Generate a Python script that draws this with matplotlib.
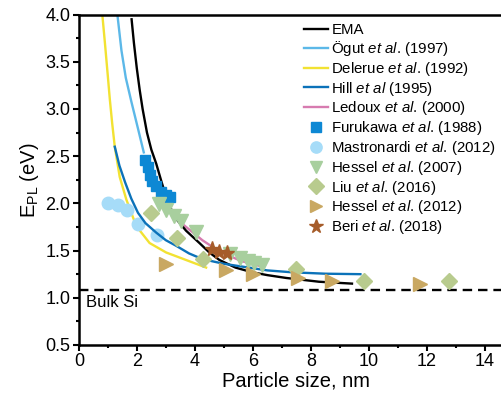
import matplotlib.pyplot as plt
from matplotlib.ticker import MultipleLocator

plt.rcParams['font.family'] = ['Liberation Sans', 'DejaVu Sans']
plt.rcParams['mathtext.fontset'] = 'custom'
plt.rcParams['mathtext.rm'] = 'Liberation Sans'
plt.rcParams['mathtext.it'] = 'Liberation Sans:italic'

# --- curvas ---
ema_x = [1.82, 1.90, 2.00, 2.10, 2.20, 2.35, 2.50, 2.67, 2.85, 2.96, 3.13, 3.40,
         3.70, 4.16, 4.50, 4.85, 5.40, 5.98, 6.50, 7.15, 8.28, 9.42]
ema_y = [3.95, 3.70, 3.43, 3.20, 3.00, 2.75, 2.57, 2.42, 2.23, 2.12, 1.97, 1.82,
         1.71, 1.58, 1.48, 1.40, 1.32, 1.27, 1.24, 1.21, 1.17, 1.15]

ogut_x = [1.33, 1.47, 1.62, 1.81, 2.05, 2.24]
ogut_y = [4.00, 3.62, 3.33, 3.08, 2.78, 2.54]

delerue_x = [0.81, 0.90, 1.00, 1.07, 1.15, 1.24, 1.41, 1.64, 1.98, 2.44, 3.01, 3.70, 4.39]
delerue_y = [4.00, 3.70, 3.35, 3.10, 2.85, 2.60, 2.28, 2.04, 1.76, 1.58, 1.48, 1.40, 1.32]

hill_x = [1.24, 1.40, 1.60, 1.81, 2.04, 2.30, 2.67, 3.00, 3.36, 3.80, 4.26, 5.00,
          5.64, 6.50, 7.35, 8.50, 9.71]
hill_y = [2.60, 2.40, 2.22, 2.05, 1.90, 1.79, 1.69, 1.61, 1.55, 1.47, 1.41, 1.36,
          1.33, 1.29, 1.27, 1.255, 1.25]

ledoux_x = [2.27, 2.60, 3.00, 3.50, 4.26, 4.80, 5.59, 6.20]
ledoux_y = [2.47, 2.22, 1.99, 1.80, 1.61, 1.50, 1.39, 1.34]

# --- puntos experimentales ---
furukawa_x = [2.27, 2.37, 2.44, 2.51, 2.65, 2.82, 3.02, 3.13]
furukawa_y = [2.46, 2.38, 2.30, 2.24, 2.18, 2.12, 2.09, 2.07]

mastro_x = [1.01, 1.35, 1.67, 2.04, 2.70]
mastro_y = [2.00, 1.98, 1.93, 1.78, 1.67]

hessel07_x = [2.78, 3.00, 3.28, 3.52, 4.05, 5.20, 5.55, 5.85, 6.05, 6.30]
hessel07_y = [1.99, 1.93, 1.87, 1.81, 1.70, 1.46, 1.42, 1.39, 1.37, 1.35]

liu_x = [2.50, 3.38, 4.27, 7.50, 9.85, 12.77]
liu_y = [1.90, 1.63, 1.41, 1.30, 1.18, 1.18]

hessel12_x = [3.00, 5.08, 6.00, 7.55, 8.73, 11.75]
hessel12_y = [1.36, 1.29, 1.25, 1.21, 1.18, 1.15]

beri_x = [4.60, 4.85, 5.10]
beri_y = [1.52, 1.49, 1.47]

bulk_si = 1.08

fig = plt.figure(figsize=(5.02, 4.01), dpi=100)
ax = fig.add_axes([0.157, 0.1397, 0.8665, 0.824])

lw = 1.7
ax.plot(ema_x, ema_y, color='black', lw=lw, label='EMA', zorder=3)
ax.plot(ogut_x, ogut_y, color='#5cb8e8', lw=lw, label=r'Ögut $\it{et\ al}$. (1997)')
ax.plot(delerue_x, delerue_y, color='#f2e232', lw=lw, label=r'Delerue $\it{et\ al}$. (1992)')
ax.plot(hill_x, hill_y, color='#0b72b9', lw=lw, label=r'Hill $\it{et\ al}$ (1995)', zorder=3)
ax.plot(ledoux_x, ledoux_y, color='#d77bb0', lw=lw, label=r'Ledoux $\it{et\ al}$. (2000)', zorder=2)

ax.plot(furukawa_x, furukawa_y, 's', color='#0d88d4', ms=7.5, ls='none',
        label=r'Furukawa $\it{et\ al}$. (1988)', zorder=4)
ax.plot(mastro_x, mastro_y, 'o', color='#a6dcf8', ms=9, ls='none',
        label=r'Mastronardi $\it{et\ al}$. (2012)', zorder=2)
ax.plot(hessel07_x, hessel07_y, 'v', color='#a8cf9e', ms=10, ls='none',
        label=r'Hessel $\it{et\ al}$. (2007)', zorder=4)
ax.plot(liu_x, liu_y, 'D', color='#b8cb8e', ms=8.5, ls='none',
        label=r'Liu $\it{et\ al}$. (2016)', zorder=4)
ax.plot(hessel12_x, hessel12_y, '>', color='#c9a862', ms=10, ls='none',
        label=r'Hessel $\it{et\ al}$. (2012)', zorder=4)
ax.plot(beri_x, beri_y, '*', color='#a65c2a', ms=11, ls='none',
        label=r'Beri $\it{et\ al}$. (2018)', zorder=5)

ax.axhline(bulk_si, color='black', lw=1.7, ls=(0, (4, 2.5)))
ax.text(0.25, bulk_si - 0.05, 'Bulk Si', fontsize=12, va='top', ha='left')

ax.set_xlim(0, 15)
ax.set_ylim(0.5, 4.0)
ax.xaxis.set_major_locator(MultipleLocator(2))
ax.xaxis.set_minor_locator(MultipleLocator(1))
ax.yaxis.set_major_locator(MultipleLocator(0.5))
ax.yaxis.set_minor_locator(MultipleLocator(0.25))
ax.tick_params(which='both', direction='out', width=1.5, labelsize=13)
ax.tick_params(which='major', length=4, pad=2)
ax.tick_params(which='minor', length=2.5)
for s in ax.spines.values():
    s.set_linewidth(1.8)
ax.set_xlabel('Particle size, nm', fontsize=14.5, labelpad=1)
ax.set_ylabel(r'E$_{\mathrm{PL}}$ (eV)', fontsize=14.5, labelpad=3)

ax.legend(loc='upper left', bbox_to_anchor=(0.503, 0.992), frameon=False,
          fontsize=10.8, handlelength=1.65, handletextpad=0.2,
          labelspacing=0.12, borderaxespad=0, markerscale=0.9)

fig.savefig('out.png', dpi=100)
